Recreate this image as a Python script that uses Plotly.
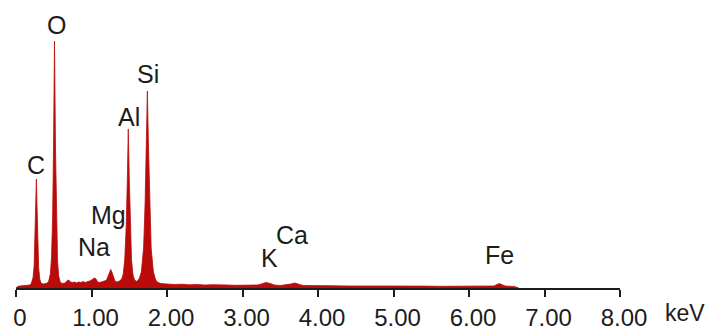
import plotly.graph_objects as go

# Energy (keV) and counts (arbitrary units)
energy = [0.00, 0.02, 0.05, 0.10, 0.15, 0.18,
          0.20, 0.225, 0.24, 0.25, 0.26, 0.27, 0.28, 0.29, 0.30, 0.315, 0.33, 0.36, 0.40,
          0.43, 0.455, 0.47, 0.485, 0.497, 0.51, 0.523, 0.535, 0.55, 0.565, 0.585, 0.61,
          0.65, 0.68, 0.70, 0.72, 0.75, 0.78, 0.80, 0.83, 0.86, 0.89, 0.92, 0.95, 0.98,
          1.01, 1.04, 1.06, 1.08, 1.11, 1.14, 1.17,
          1.20, 1.22, 1.24, 1.255, 1.27, 1.29, 1.31, 1.34, 1.37,
          1.40, 1.42, 1.44, 1.46, 1.475, 1.487, 1.50, 1.515, 1.53, 1.55, 1.57, 1.60,
          1.63, 1.66, 1.69, 1.71, 1.725, 1.74, 1.755, 1.77, 1.79, 1.82, 1.85, 1.88, 1.92,
          2.00, 2.10, 2.20, 2.30, 2.40, 2.50, 2.60, 2.70, 2.80, 2.90, 3.00, 3.10, 3.20,
          3.25, 3.31, 3.37, 3.42, 3.50, 3.58, 3.64, 3.69, 3.74, 3.80, 3.90, 4.00,
          4.20, 4.40, 4.60, 4.80, 5.00, 5.20, 5.40, 5.60, 5.80, 6.00, 6.20, 6.33,
          6.40, 6.44, 6.48, 6.60, 6.66]
counts = [0, 1.5, 2, 2.5, 2.8, 3,
          4, 10, 22, 45, 80, 109, 78, 42, 20, 9, 5, 4, 4.5,
          6, 14, 30, 70, 140, 247, 140, 68, 28, 12, 6, 4.5,
          5, 7.5, 8, 6, 5.5, 6, 5, 6, 5.5, 6.5, 5.5, 6.5, 7,
          8.5, 10, 9, 6, 5.5, 6, 7,
          8, 12, 17, 18.5, 16, 10, 7, 6, 7,
          9, 14, 28, 62, 110, 159, 110, 60, 28, 13, 8, 6.5,
          9, 16, 40, 85, 140, 197, 140, 85, 40, 16, 8, 5.5, 4.5,
          4, 3.5, 3.8, 3.2, 3.5, 3, 3.3, 2.8, 3, 2.7, 2.9, 2.6, 3,
          4, 5.5, 4.5, 3, 2.5, 3, 4, 5, 4, 2.6, 2.4, 2.5,
          2.2, 2, 2.1, 1.9, 2, 1.8, 1.9, 1.7, 1.8, 1.6, 1.7, 2,
          4.5, 3.5, 2, 1.5, 0]

# Element labels
elements = ["C", "O", "Na", "Mg", "Al", "Si", "K", "Ca", "Fe"]
label_x = [0.27, 0.53, 1.03, 1.23, 1.49, 1.75, 3.36, 3.65, 6.41]
label_y = [123, 263, 41, 73, 171, 214, 30, 53, 33]

tick_vals = [0, 1, 2, 3, 4, 5, 6, 7, 8]
tick_text = ["0", "1.00", "2.00", "3.00", "4.00", "5.00", "6.00", "7.00", "8.00"]

RED = "#BA0A0A"
INK = "#1c1c1c"
FONT = "Liberation Sans, Arial, sans-serif"

fig = go.Figure()
fig.add_trace(go.Scatter(
    x=energy, y=counts, mode="lines", fill="tozeroy",
    line=dict(color=RED, width=0.8), fillcolor=RED,
    hoverinfo="skip", showlegend=False,
))

for name, lx, ly in zip(elements, label_x, label_y):
    fig.add_annotation(x=lx, y=ly, xref="x", yref="y", text=name,
                       showarrow=False, xanchor="center", yanchor="middle",
                       font=dict(family=FONT, size=25, color=INK))

fig.add_annotation(x=1, y=0, xref="paper", yref="paper", text="keV",
                   showarrow=False, xanchor="left", yanchor="middle",
                   xshift=43, yshift=-25,
                   font=dict(family=FONT, size=23, color=INK))

fig.update_layout(
    width=706, height=330,
    margin=dict(l=16, r=86, t=9, b=42, autoexpand=False),
    paper_bgcolor="white", plot_bgcolor="white",
    xaxis=dict(range=[0, 8], tickmode="array", tickvals=tick_vals, ticktext=tick_text,
               automargin=False,
               showgrid=False, zeroline=False, showline=True, linecolor=INK, linewidth=2,
               ticks="outside", ticklen=7, tickwidth=2, tickcolor=INK,
               ticklabelshift=4, ticklabelstandoff=0,
               tickfont=dict(family=FONT, size=24, color=INK), fixedrange=True),
    yaxis=dict(range=[0, 279], visible=False, fixedrange=True, automargin=False),
)

fig.write_html("out.html")
